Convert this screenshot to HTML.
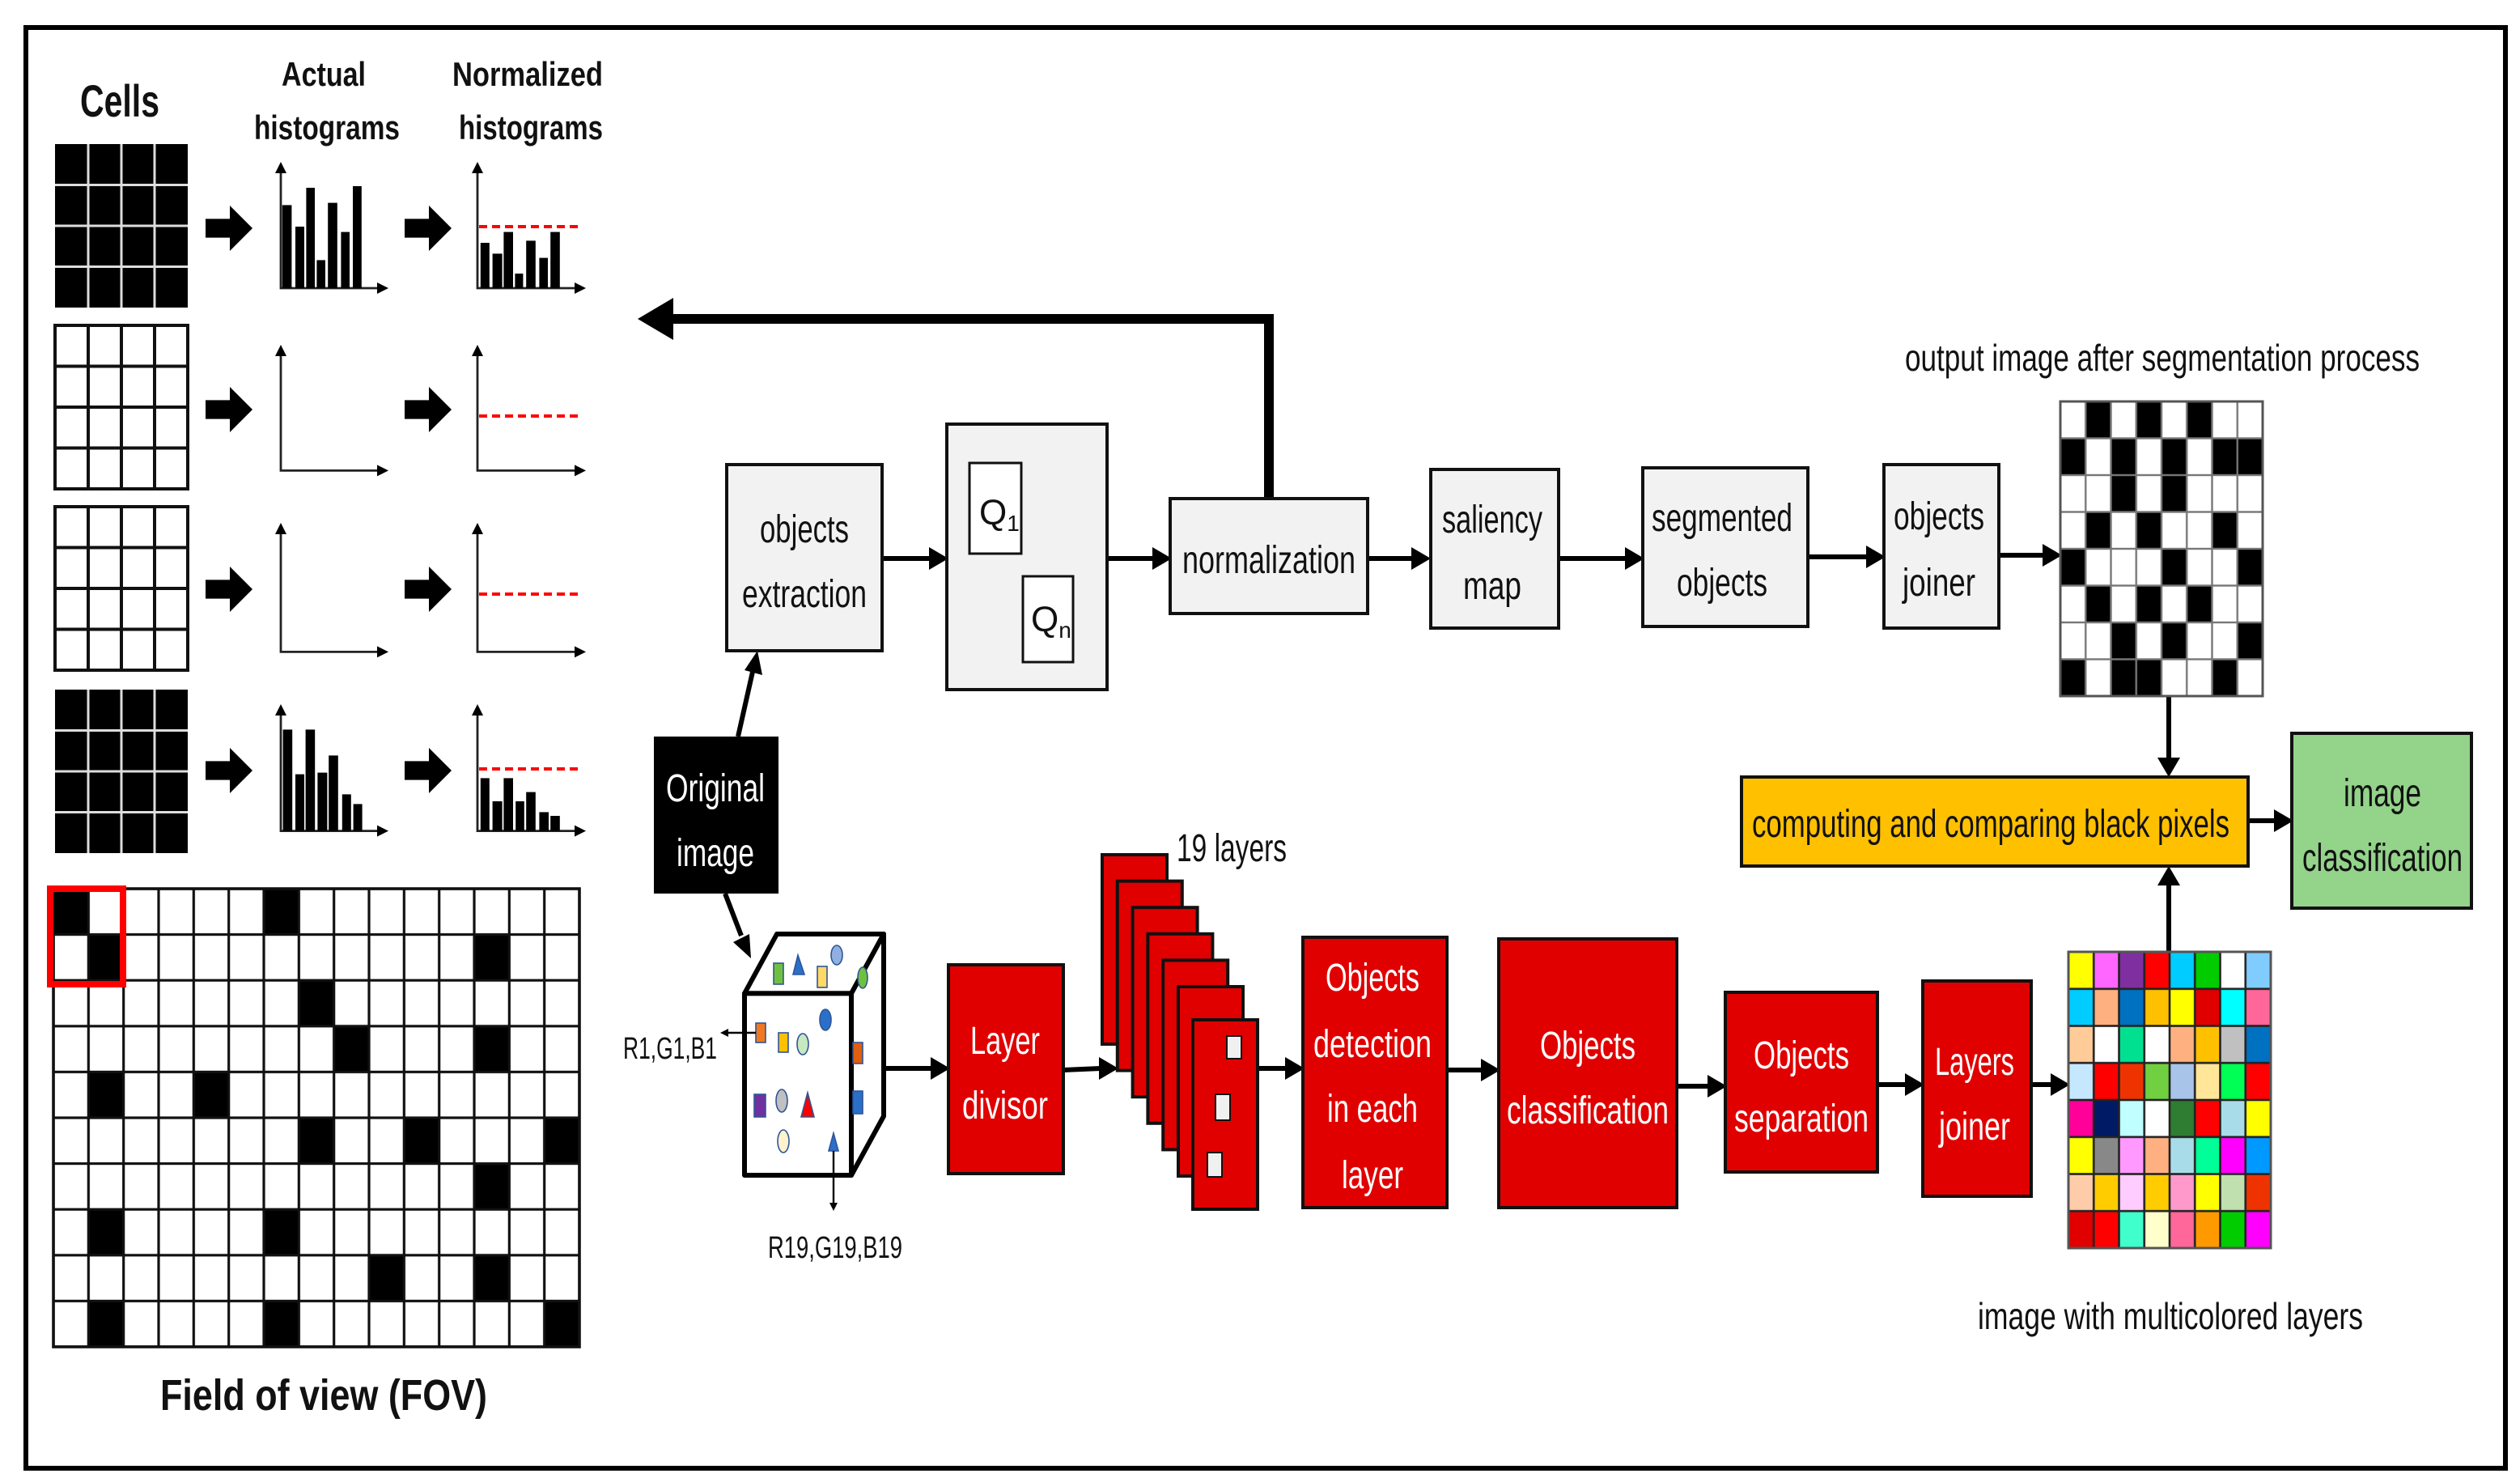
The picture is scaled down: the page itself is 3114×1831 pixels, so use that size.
<!DOCTYPE html>
<html><head><meta charset="utf-8"><style>
html,body{margin:0;padding:0;background:#fff;}
svg{display:block;}
text{font-family:"Liberation Sans Narrow","Liberation Sans",sans-serif;fill:#111;}
.b{font-family:"Liberation Sans",sans-serif;font-weight:bold;}
.w{fill:#fff;}
</style></head><body>
<svg width="3114" height="1831" viewBox="0 0 1557 915.5" preserveAspectRatio="none" xmlns="http://www.w3.org/2000/svg">
<defs>
<pattern id="fovg" x="33" y="549" width="21.667" height="28.3" patternUnits="userSpaceOnUse"><rect x="0" y="0" width="21.667" height="28.3" fill="none" stroke="#111" stroke-width="1.6"/></pattern>
<pattern id="outg" x="1273" y="248" width="15.625" height="22.75" patternUnits="userSpaceOnUse"><rect x="0" y="0" width="15.625" height="22.75" fill="none" stroke="#777" stroke-width="1.2"/></pattern>
<pattern id="colg" x="1278" y="588" width="15.625" height="22.875" patternUnits="userSpaceOnUse"><rect x="0" y="0" width="15.625" height="22.875" fill="none" stroke="#222" stroke-width="1.3"/></pattern>
<pattern id="cellW" x="34" y="0" width="20.5" height="25.25" patternUnits="userSpaceOnUse"><rect x="0" y="0" width="20.5" height="25.25" fill="none" stroke="#111" stroke-width="2"/></pattern>
<g id="blk"><polygon points="0,-5.8 15,-5.8 15,-14 29,0 15,14 15,5.8 0,5.8" fill="#000"/></g>
</defs>
<rect x="0" y="0" width="1557" height="915.5" fill="#fff"/>
<rect x="16" y="17" width="1532" height="890" fill="none" stroke="#000" stroke-width="3"/>

<!-- Titles left -->
<text class="b" x="74" y="72" font-size="28" text-anchor="middle" textLength="49" lengthAdjust="spacingAndGlyphs">Cells</text>
<text class="b" x="200" y="53" font-size="21" text-anchor="middle" textLength="52" lengthAdjust="spacingAndGlyphs">Actual</text>
<text class="b" x="202" y="86" font-size="21" text-anchor="middle" textLength="90" lengthAdjust="spacingAndGlyphs">histograms</text>
<text class="b" x="326" y="53" font-size="21" text-anchor="middle" textLength="93" lengthAdjust="spacingAndGlyphs">Normalized</text>
<text class="b" x="328" y="86" font-size="21" text-anchor="middle" textLength="89" lengthAdjust="spacingAndGlyphs">histograms</text>

<!-- Cells grids -->
<rect x="34" y="89" width="82" height="101" fill="#000"/>
<g stroke="#ddd" stroke-width="1.5"><line x1="54.5" y1="89" x2="54.5" y2="190"/><line x1="75" y1="89" x2="75" y2="190"/><line x1="95.5" y1="89" x2="95.5" y2="190"/><line x1="34" y1="114.25" x2="116" y2="114.25"/><line x1="34" y1="139.5" x2="116" y2="139.5"/><line x1="34" y1="164.75" x2="116" y2="164.75"/></g>
<rect x="34" y="426" width="82" height="101" fill="#000"/>
<g stroke="#ddd" stroke-width="1.5"><line x1="54.5" y1="426" x2="54.5" y2="527"/><line x1="75" y1="426" x2="75" y2="527"/><line x1="95.5" y1="426" x2="95.5" y2="527"/><line x1="34" y1="451.25" x2="116" y2="451.25"/><line x1="34" y1="476.5" x2="116" y2="476.5"/><line x1="34" y1="501.75" x2="116" y2="501.75"/></g>
<g stroke="#111" stroke-width="2" fill="none">
<rect x="34" y="201" width="82" height="101"/><line x1="54.5" y1="201" x2="54.5" y2="302"/><line x1="75" y1="201" x2="75" y2="302"/><line x1="95.5" y1="201" x2="95.5" y2="302"/><line x1="34" y1="226.25" x2="116" y2="226.25"/><line x1="34" y1="251.5" x2="116" y2="251.5"/><line x1="34" y1="276.75" x2="116" y2="276.75"/>
<rect x="34" y="313" width="82" height="101"/><line x1="54.5" y1="313" x2="54.5" y2="414"/><line x1="75" y1="313" x2="75" y2="414"/><line x1="95.5" y1="313" x2="95.5" y2="414"/><line x1="34" y1="338.25" x2="116" y2="338.25"/><line x1="34" y1="363.5" x2="116" y2="363.5"/><line x1="34" y1="388.75" x2="116" y2="388.75"/>
</g>

<!-- block arrows -->
<use href="#blk" x="127" y="141"/><use href="#blk" x="250" y="141"/>
<use href="#blk" x="127" y="253"/><use href="#blk" x="250" y="253"/>
<use href="#blk" x="127" y="364"/><use href="#blk" x="250" y="364"/>
<use href="#blk" x="127" y="476"/><use href="#blk" x="250" y="476"/>

<!-- axes -->
<g stroke="#222" stroke-width="1.4" fill="none">
<polyline points="173.5,104 173.5,178 236,178"/><polyline points="295,104 295,178 358,178"/>
<polyline points="173.5,218 173.5,290.7 236,290.7"/><polyline points="295,218 295,290.7 358,290.7"/>
<polyline points="173.5,328 173.5,402.7 236,402.7"/><polyline points="295,328 295,402.7 358,402.7"/>
<polyline points="173.5,440 173.5,513.3 236,513.3"/><polyline points="295,440 295,513.3 358,513.3"/>
</g>
<g fill="#000">
<polygon points="173.5,100 170,107 177,107"/><polygon points="295,100 291.5,107 298.5,107"/>
<polygon points="240,178 233,174.5 233,181.5"/><polygon points="362,178 355,174.5 355,181.5"/>
<polygon points="173.5,213 170,220 177,220"/><polygon points="295,213 291.5,220 298.5,220"/>
<polygon points="240,290.7 233,287.2 233,294.2"/><polygon points="362,290.7 355,287.2 355,294.2"/>
<polygon points="173.5,323 170,330 177,330"/><polygon points="295,323 291.5,330 298.5,330"/>
<polygon points="240,402.7 233,399.2 233,406.2"/><polygon points="362,402.7 355,399.2 355,406.2"/>
<polygon points="173.5,435 170,442 177,442"/><polygon points="295,435 291.5,442 298.5,442"/>
<polygon points="240,513.3 233,509.8 233,516.8"/><polygon points="362,513.3 355,509.8 355,516.8"/>
</g>
<!-- bars -->
<g fill="#000">
<rect x="174.4" y="126.7" width="5.8" height="51.3"/><rect x="182.5" y="140" width="5.5" height="38"/><rect x="189.2" y="116" width="5.3" height="62"/><rect x="195.7" y="160.7" width="5.3" height="17.3"/><rect x="202.6" y="125.3" width="5.8" height="52.7"/><rect x="210.7" y="143.3" width="5.3" height="34.7"/><rect x="218" y="115" width="5.4" height="63"/>
<rect x="296.9" y="150" width="5.5" height="28"/><rect x="304.3" y="156.7" width="6" height="21.3"/><rect x="311.2" y="143.3" width="5.8" height="34.7"/><rect x="318.2" y="169" width="5" height="9"/><rect x="325.1" y="148.7" width="5.8" height="29.3"/><rect x="333.2" y="159.3" width="5.3" height="18.7"/><rect x="340.1" y="143.3" width="5.8" height="34.7"/>
<rect x="174.8" y="450.7" width="5.8" height="62.6"/><rect x="182.5" y="478.3" width="5.5" height="35"/><rect x="188.8" y="450.7" width="5.8" height="62.6"/><rect x="196.2" y="477.3" width="6" height="36"/><rect x="203.1" y="466.7" width="5.8" height="46.6"/><rect x="211.4" y="490.7" width="5.5" height="22.6"/><rect x="218.3" y="496.7" width="5.5" height="16.6"/>
<rect x="296.9" y="480.7" width="5.5" height="32.6"/><rect x="304.3" y="495" width="6" height="18.3"/><rect x="311.2" y="480.7" width="5.8" height="32.6"/><rect x="318.6" y="495" width="5.3" height="18.3"/><rect x="325.1" y="489.3" width="5.8" height="24"/><rect x="333.2" y="501.7" width="5.8" height="11.6"/><rect x="340.1" y="504" width="5.8" height="9.3"/>
</g>
<g stroke="#ff0000" stroke-width="2" stroke-dasharray="5,3">
<line x1="296" y1="140" x2="359" y2="140"/><line x1="296" y1="257" x2="359" y2="257"/><line x1="296" y1="367" x2="359" y2="367"/><line x1="296" y1="475" x2="359" y2="475"/>
</g>

<!-- FOV -->
<rect x="33" y="549" width="325" height="283" fill="#fff"/>
<g fill="#000">
<rect x="33" y="549" width="21.67" height="28.3"/><rect x="163" y="549" width="21.67" height="28.3"/>
<rect x="54.67" y="577.3" width="21.67" height="28.3"/><rect x="293" y="577.3" width="21.67" height="28.3"/>
<rect x="184.67" y="605.6" width="21.67" height="28.3"/>
<rect x="206.33" y="633.9" width="21.67" height="28.3"/><rect x="293" y="633.9" width="21.67" height="28.3"/>
<rect x="54.67" y="662.2" width="21.67" height="28.3"/><rect x="119.67" y="662.2" width="21.67" height="28.3"/>
<rect x="184.67" y="690.5" width="21.67" height="28.3"/><rect x="249.67" y="690.5" width="21.67" height="28.3"/><rect x="336.33" y="690.5" width="21.67" height="28.3"/>
<rect x="293" y="718.8" width="21.67" height="28.3"/>
<rect x="54.67" y="747.1" width="21.67" height="28.3"/><rect x="163" y="747.1" width="21.67" height="28.3"/>
<rect x="228" y="775.4" width="21.67" height="28.3"/><rect x="293" y="775.4" width="21.67" height="28.3"/>
<rect x="54.67" y="803.7" width="21.67" height="28.3"/><rect x="163" y="803.7" width="21.67" height="28.3"/><rect x="336.33" y="803.7" width="21.67" height="28.3"/>
</g>
<rect x="33" y="549" width="325" height="283" fill="url(#fovg)"/>
<rect x="33" y="549" width="325" height="283" fill="none" stroke="#111" stroke-width="1.8"/>
<rect x="31" y="549" width="45" height="59" fill="none" stroke="#ff0000" stroke-width="4"/>
<text class="b" x="200" y="871" font-size="27" text-anchor="middle" textLength="202" lengthAdjust="spacingAndGlyphs">Field of view (FOV)</text>

<!-- Feedback arrow -->
<polyline points="784,308 784,197 412,197" fill="none" stroke="#000" stroke-width="6"/>
<polygon points="394,197 416,184 416,210" fill="#000"/>

<!-- connector lines with arrowheads -->
<g stroke="#000" stroke-width="3" fill="none">
<line x1="545" y1="345" x2="575" y2="345"/>
<line x1="684" y1="345" x2="713" y2="345"/>
<line x1="845" y1="345" x2="873" y2="345"/>
<line x1="963" y1="345" x2="1005" y2="345"/>
<line x1="1117" y1="344" x2="1154" y2="344"/>
<line x1="1235" y1="343" x2="1263" y2="343"/>
<line x1="1340" y1="430" x2="1340" y2="470"/>
<line x1="1389" y1="507" x2="1406" y2="507"/>
<line x1="1340" y1="588" x2="1340" y2="545"/>
<line x1="456" y1="455" x2="465" y2="415"/>
<line x1="448" y1="552" x2="458" y2="578"/>
<line x1="546" y1="660" x2="576" y2="660"/>
<line x1="657" y1="661" x2="680" y2="660"/>
<line x1="777" y1="660" x2="795" y2="660"/>
<line x1="894" y1="661" x2="916" y2="661"/>
<line x1="1036" y1="671" x2="1056" y2="671"/>
<line x1="1160" y1="670" x2="1178" y2="670"/>
<line x1="1255" y1="670" x2="1268" y2="670"/>
</g>
<g fill="#000">
<polygon points="586,345 574,338 574,352"/>
<polygon points="724,345 712,338 712,352"/>
<polygon points="884,345 872,338 872,352"/>
<polygon points="1016,345 1004,338 1004,352"/>
<polygon points="1165,344 1153,337 1153,351"/>
<polygon points="1274,343 1262,336 1262,350"/>
<polygon points="1340,480 1333,468 1347,468"/>
<polygon points="1417,507 1405,500 1405,514"/>
<polygon points="1340,535 1333,547 1347,547"/>
<polygon points="468,402 460,414 471,417"/>
<polygon points="464,592 453,582 463,577"/>
<polygon points="587,660 575,653 575,667"/>
<polygon points="691,660 679,653 679,667"/>
<polygon points="806,660 794,653 794,667"/>
<polygon points="927,661 915,654 915,668"/>
<polygon points="1067,671 1055,664 1055,678"/>
<polygon points="1189,670 1177,663 1177,677"/>
<polygon points="1279,670 1267,663 1267,677"/>
</g>

<!-- Top row boxes -->
<g fill="#f2f2f2" stroke="#111" stroke-width="2">
<rect x="449" y="287" width="96" height="115"/>
<rect x="585" y="262" width="99" height="164"/>
<rect x="723" y="308" width="122" height="71"/>
<rect x="884" y="290" width="79" height="98"/>
<rect x="1015" y="289" width="102" height="98"/>
<rect x="1164" y="287" width="71" height="101"/>
</g>
<rect x="599" y="286" width="32" height="56" fill="#fff" stroke="#111" stroke-width="1.5"/>
<rect x="632" y="356" width="31" height="53" fill="#fff" stroke="#111" stroke-width="1.5"/>
<text x="497" y="335" font-size="24" text-anchor="middle" textLength="55" lengthAdjust="spacingAndGlyphs">objects</text>
<text x="497" y="375" font-size="24" text-anchor="middle" textLength="77" lengthAdjust="spacingAndGlyphs">extraction</text>
<text x="605" y="324" font-size="22">Q<tspan font-size="14" dy="4">1</tspan></text>
<text x="637" y="390" font-size="22">Q<tspan font-size="14" dy="4">n</tspan></text>
<text x="784" y="354" font-size="24" text-anchor="middle" textLength="107" lengthAdjust="spacingAndGlyphs">normalization</text>
<text x="922" y="329" font-size="24" text-anchor="middle" textLength="62" lengthAdjust="spacingAndGlyphs">saliency</text>
<text x="922" y="370" font-size="24" text-anchor="middle" textLength="36" lengthAdjust="spacingAndGlyphs">map</text>
<text x="1064" y="328" font-size="24" text-anchor="middle" textLength="87" lengthAdjust="spacingAndGlyphs">segmented</text>
<text x="1064" y="368" font-size="24" text-anchor="middle" textLength="56" lengthAdjust="spacingAndGlyphs">objects</text>
<text x="1198" y="327" font-size="24" text-anchor="middle" textLength="56" lengthAdjust="spacingAndGlyphs">objects</text>
<text x="1198" y="368" font-size="24" text-anchor="middle" textLength="45" lengthAdjust="spacingAndGlyphs">joiner</text>
<text x="1336" y="229" font-size="23" text-anchor="middle" textLength="318" lengthAdjust="spacingAndGlyphs">output image after segmentation process</text>

<!-- Output grid -->
<rect x="1273" y="248" width="125" height="182" fill="#fff"/>
<g fill="#000">
<rect x="1288.6" y="248" width="15.63" height="22.75"/><rect x="1319.9" y="248" width="15.63" height="22.75"/><rect x="1351.1" y="248" width="15.63" height="22.75"/>
<rect x="1273" y="270.75" width="15.63" height="22.75"/><rect x="1304.25" y="270.75" width="15.63" height="22.75"/><rect x="1335.5" y="270.75" width="15.63" height="22.75"/><rect x="1366.75" y="270.75" width="31.25" height="22.75"/>
<rect x="1304.25" y="293.5" width="15.63" height="22.75"/><rect x="1335.5" y="293.5" width="15.63" height="22.75"/>
<rect x="1288.6" y="316.25" width="15.63" height="22.75"/><rect x="1319.9" y="316.25" width="15.63" height="22.75"/><rect x="1366.75" y="316.25" width="15.63" height="22.75"/>
<rect x="1273" y="339" width="15.63" height="22.75"/><rect x="1335.5" y="339" width="15.63" height="22.75"/><rect x="1382.4" y="339" width="15.63" height="22.75"/>
<rect x="1288.6" y="361.75" width="15.63" height="22.75"/><rect x="1319.9" y="361.75" width="15.63" height="22.75"/><rect x="1351.1" y="361.75" width="15.63" height="22.75"/>
<rect x="1304.25" y="384.5" width="15.63" height="22.75"/><rect x="1335.5" y="384.5" width="15.63" height="22.75"/><rect x="1382.4" y="384.5" width="15.63" height="22.75"/>
<rect x="1273" y="407.25" width="15.63" height="22.75"/><rect x="1304.25" y="407.25" width="31.25" height="22.75"/><rect x="1366.75" y="407.25" width="15.63" height="22.75"/>
</g>
<rect x="1273" y="248" width="125" height="182" fill="url(#outg)"/>
<rect x="1273" y="248" width="125" height="182" fill="none" stroke="#555" stroke-width="1.5"/>

<!-- Yellow and green -->
<rect x="1076" y="480" width="313" height="55" fill="#ffc000" stroke="#111" stroke-width="2"/>
<text x="1230" y="517" font-size="24" text-anchor="middle" textLength="295" lengthAdjust="spacingAndGlyphs">computing and comparing black pixels</text>
<rect x="1416" y="453" width="111" height="108" fill="#93d38a" stroke="#111" stroke-width="2"/>
<text x="1472" y="498" font-size="24" text-anchor="middle" textLength="48" lengthAdjust="spacingAndGlyphs">image</text>
<text x="1472" y="538" font-size="24" text-anchor="middle" textLength="99" lengthAdjust="spacingAndGlyphs">classification</text>

<!-- Original image -->
<rect x="404" y="455" width="77" height="97" fill="#000"/>
<text class="w" x="442" y="495" font-size="24" text-anchor="middle" textLength="61" lengthAdjust="spacingAndGlyphs">Original</text>
<text class="w" x="442" y="535" font-size="24" text-anchor="middle" textLength="48" lengthAdjust="spacingAndGlyphs">image</text>

<!-- Cube -->
<g stroke="#000" stroke-width="3" fill="#fff" stroke-linejoin="round">
<polygon points="460,613.7 480,577 546,577 526,613.7"/>
<polygon points="526,613.7 546,577 546,689.5 526,726"/>
<rect x="460" y="613.7" width="66" height="112.3"/>
</g>
<g stroke="#2f5597" stroke-width="0.8">
<rect x="478" y="595" width="6" height="13" fill="#70c040"/>
<polygon points="493,590 490,602 497,602" fill="#2a70c8"/>
<rect x="505" y="597" width="6" height="13" fill="#ffd966"/>
<ellipse cx="517" cy="590" rx="3.5" ry="6" fill="#8fb0e0"/>
<ellipse cx="533" cy="604" rx="3" ry="6.5" fill="#70c040"/>
<ellipse cx="510" cy="630" rx="3.5" ry="6.5" fill="#2a70c8"/>
<rect x="467" y="632" width="6" height="12" fill="#f07820"/>
<rect x="481" y="638" width="6" height="12" fill="#ffc000"/>
<ellipse cx="496" cy="645" rx="3.5" ry="6.5" fill="#c8e8c0"/>
<rect x="527" y="644" width="6" height="13" fill="#e06010"/>
<rect x="466" y="676" width="7" height="14" fill="#7030a0"/>
<ellipse cx="483" cy="680" rx="3.5" ry="7" fill="#c0c0c0"/>
<polygon points="499,675 495,690 503,690" fill="#ff0000"/>
<rect x="527" y="674" width="6" height="14" fill="#2a70c8"/>
<ellipse cx="484" cy="705" rx="3.5" ry="7" fill="#fff2cc"/>
<polygon points="515,700 512,711 518,711" fill="#2a70c8"/>
</g>
<g stroke="#000" stroke-width="1.2"><line x1="467" y1="638" x2="448" y2="638"/><line x1="515" y1="711" x2="515" y2="745"/></g>
<polygon points="445,638 450,635.5 450,640.5" fill="#000"/>
<polygon points="515,748 512.5,743 517.5,743" fill="#000"/>
<text x="414" y="654" font-size="19" text-anchor="middle" textLength="58" lengthAdjust="spacingAndGlyphs">R1,G1,B1</text>
<text x="516" y="777" font-size="19" text-anchor="middle" textLength="83" lengthAdjust="spacingAndGlyphs">R19,G19,B19</text>

<!-- Red boxes -->
<g fill="#e00000" stroke="#111" stroke-width="2">
<rect x="586" y="596" width="71" height="129"/>
<rect x="681" y="528" width="40" height="117"/>
<rect x="690.4" y="544.3" width="40" height="117"/>
<rect x="699.8" y="560.6" width="40" height="117"/>
<rect x="709.2" y="576.9" width="40" height="117"/>
<rect x="718.6" y="593.2" width="40" height="117"/>
<rect x="728" y="609.5" width="40" height="117"/>
<rect x="737" y="630" width="40" height="117"/>
<rect x="805" y="579" width="89" height="167"/>
<rect x="926" y="580" width="110" height="166"/>
<rect x="1066" y="613" width="94" height="111"/>
<rect x="1188" y="606" width="67" height="133"/>
</g>
<g fill="#f0f0f0" stroke="#111" stroke-width="1">
<rect x="758" y="640" width="9" height="14"/><rect x="751" y="676" width="9" height="16"/><rect x="746" y="712" width="9" height="15"/>
</g>
<text x="761" y="532" font-size="24" text-anchor="middle" textLength="68" lengthAdjust="spacingAndGlyphs">19 layers</text>
<text class="w" x="621" y="651" font-size="24" text-anchor="middle" textLength="43" lengthAdjust="spacingAndGlyphs">Layer</text>
<text class="w" x="621" y="691" font-size="24" text-anchor="middle" textLength="53" lengthAdjust="spacingAndGlyphs">divisor</text>
<text class="w" x="848" y="612" font-size="24" text-anchor="middle" textLength="58" lengthAdjust="spacingAndGlyphs">Objects</text>
<text class="w" x="848" y="653" font-size="24" text-anchor="middle" textLength="73" lengthAdjust="spacingAndGlyphs">detection</text>
<text class="w" x="848" y="693" font-size="24" text-anchor="middle" textLength="56" lengthAdjust="spacingAndGlyphs">in each</text>
<text class="w" x="848" y="734" font-size="24" text-anchor="middle" textLength="38" lengthAdjust="spacingAndGlyphs">layer</text>
<text class="w" x="981" y="654" font-size="24" text-anchor="middle" textLength="59" lengthAdjust="spacingAndGlyphs">Objects</text>
<text class="w" x="981" y="694" font-size="24" text-anchor="middle" textLength="100" lengthAdjust="spacingAndGlyphs">classification</text>
<text class="w" x="1113" y="660" font-size="24" text-anchor="middle" textLength="59" lengthAdjust="spacingAndGlyphs">Objects</text>
<text class="w" x="1113" y="699" font-size="24" text-anchor="middle" textLength="83" lengthAdjust="spacingAndGlyphs">separation</text>
<text class="w" x="1220" y="664" font-size="24" text-anchor="middle" textLength="49" lengthAdjust="spacingAndGlyphs">Layers</text>
<text class="w" x="1220" y="704" font-size="24" text-anchor="middle" textLength="44" lengthAdjust="spacingAndGlyphs">joiner</text>

<!-- Color grid -->
<g transform="translate(1278,588)">
<g><rect x="0" width="15.7" height="23" fill="#ffff00"/><rect x="15.625" width="15.7" height="23" fill="#ff66ff"/><rect x="31.25" width="15.7" height="23" fill="#7f2fa0"/><rect x="46.875" width="15.7" height="23" fill="#ff0000"/><rect x="62.5" width="15.7" height="23" fill="#00ccff"/><rect x="78.125" width="15.7" height="23" fill="#00cc00"/><rect x="93.75" width="15.7" height="23" fill="#ffffff"/><rect x="109.375" width="15.7" height="23" fill="#80ccff"/></g>
<g transform="translate(0,22.875)"><rect x="0" width="15.7" height="23" fill="#00ccff"/><rect x="15.625" width="15.7" height="23" fill="#ffb080"/><rect x="31.25" width="15.7" height="23" fill="#0070c0"/><rect x="46.875" width="15.7" height="23" fill="#ffc000"/><rect x="62.5" width="15.7" height="23" fill="#ffff00"/><rect x="78.125" width="15.7" height="23" fill="#e00000"/><rect x="93.75" width="15.7" height="23" fill="#00ffff"/><rect x="109.375" width="15.7" height="23" fill="#ff6699"/></g>
<g transform="translate(0,45.75)"><rect x="0" width="15.7" height="23" fill="#ffcc99"/><rect x="15.625" width="15.7" height="23" fill="#ffffff"/><rect x="31.25" width="15.7" height="23" fill="#00e090"/><rect x="46.875" width="15.7" height="23" fill="#ffffff"/><rect x="62.5" width="15.7" height="23" fill="#ffb080"/><rect x="78.125" width="15.7" height="23" fill="#ffc000"/><rect x="93.75" width="15.7" height="23" fill="#c0c0c0"/><rect x="109.375" width="15.7" height="23" fill="#0070c0"/></g>
<g transform="translate(0,68.625)"><rect x="0" width="15.7" height="23" fill="#c6e8ff"/><rect x="15.625" width="15.7" height="23" fill="#ff0000"/><rect x="31.25" width="15.7" height="23" fill="#ee3300"/><rect x="46.875" width="15.7" height="23" fill="#70d040"/><rect x="62.5" width="15.7" height="23" fill="#a8c4e8"/><rect x="78.125" width="15.7" height="23" fill="#ffe699"/><rect x="93.75" width="15.7" height="23" fill="#00ff55"/><rect x="109.375" width="15.7" height="23" fill="#ff0000"/></g>
<g transform="translate(0,91.5)"><rect x="0" width="15.7" height="23" fill="#ff0099"/><rect x="15.625" width="15.7" height="23" fill="#001a66"/><rect x="31.25" width="15.7" height="23" fill="#c0ffff"/><rect x="46.875" width="15.7" height="23" fill="#ffffff"/><rect x="62.5" width="15.7" height="23" fill="#2e7d32"/><rect x="78.125" width="15.7" height="23" fill="#ff0000"/><rect x="93.75" width="15.7" height="23" fill="#a8dce8"/><rect x="109.375" width="15.7" height="23" fill="#ffff00"/></g>
<g transform="translate(0,114.375)"><rect x="0" width="15.7" height="23" fill="#ffff00"/><rect x="15.625" width="15.7" height="23" fill="#888888"/><rect x="31.25" width="15.7" height="23" fill="#ff99ff"/><rect x="46.875" width="15.7" height="23" fill="#ffb080"/><rect x="62.5" width="15.7" height="23" fill="#a8dce8"/><rect x="78.125" width="15.7" height="23" fill="#00ff99"/><rect x="93.75" width="15.7" height="23" fill="#ff00ff"/><rect x="109.375" width="15.7" height="23" fill="#0099ff"/></g>
<g transform="translate(0,137.25)"><rect x="0" width="15.7" height="23" fill="#ffccaa"/><rect x="15.625" width="15.7" height="23" fill="#ffcc00"/><rect x="31.25" width="15.7" height="23" fill="#ffccff"/><rect x="46.875" width="15.7" height="23" fill="#ffcc00"/><rect x="62.5" width="15.7" height="23" fill="#ff99cc"/><rect x="78.125" width="15.7" height="23" fill="#ffff00"/><rect x="93.75" width="15.7" height="23" fill="#c0e0b0"/><rect x="109.375" width="15.7" height="23" fill="#ee3300"/></g>
<g transform="translate(0,160.125)"><rect x="0" width="15.7" height="22.9" fill="#e00000"/><rect x="15.625" width="15.7" height="22.9" fill="#ff0000"/><rect x="31.25" width="15.7" height="22.9" fill="#40ffcc"/><rect x="46.875" width="15.7" height="22.9" fill="#ffffcc"/><rect x="62.5" width="15.7" height="22.9" fill="#ff6699"/><rect x="78.125" width="15.7" height="22.9" fill="#ff9900"/><rect x="93.75" width="15.7" height="22.9" fill="#00cc00"/><rect x="109.375" width="15.625" height="22.9" fill="#ff00ff"/></g>
</g>
<rect x="1278" y="588" width="125" height="183" fill="url(#colg)"/>
<rect x="1278" y="588" width="125" height="183" fill="none" stroke="#555" stroke-width="1.5"/>
<text x="1341" y="821" font-size="23" text-anchor="middle" textLength="238" lengthAdjust="spacingAndGlyphs">image with multicolored layers</text>
</svg>
</body></html>
